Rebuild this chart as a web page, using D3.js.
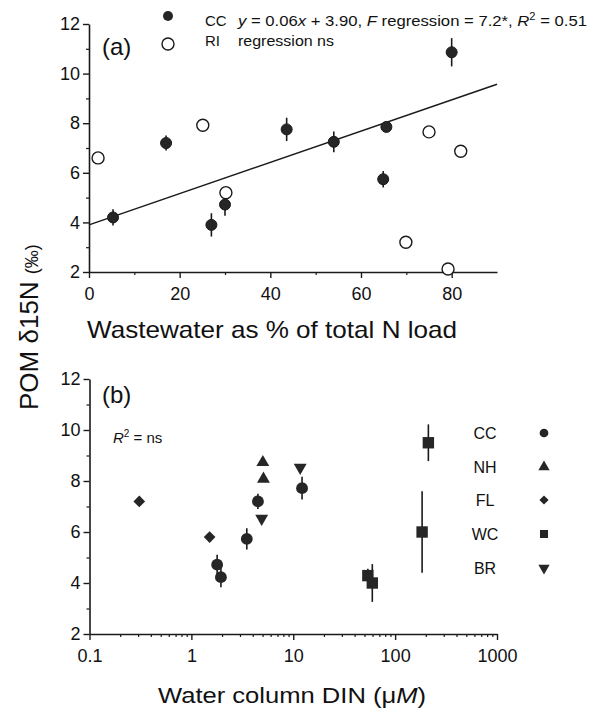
<!DOCTYPE html>
<html>
<head>
<meta charset="utf-8">
<script src="https://cdn.jsdelivr.net/npm/d3@7"></script>
<style>
  html, body { margin: 0; padding: 0; background: #fff; }
  svg text { font-family: "Liberation Sans", Arial, Helvetica, sans-serif; fill: #111; }
</style>
</head>
<body>
<svg id="chart" width="589" height="709"></svg>
<script>
// ---------- Panel (a) data ----------
const ccWaste = [5.3, 17, 27, 30, 43.6, 54, 65.6, 64.9, 80];
const ccDelta = [4.2, 7.2, 3.9, 4.72, 7.75, 7.25, 7.85, 5.74, 10.86];
const ccErr   = [0.33, 0.3, 0.47, 0.45, 0.47, 0.42, 0.2, 0.33, 0.57];
const riWaste = [2, 25.1, 30.2, 75, 82, 69.9, 79.2];
const riDelta = [6.6, 7.92, 5.2, 7.65, 6.87, 3.2, 2.12];
const regIntercept = 3.90;
const regSlope = 0.063;
const wasteTicks = [0, 20, 40, 60, 80];
const wasteMinor = [10, 30, 50, 70];
const deltaTicks = [2, 4, 6, 8, 10, 12];
const deltaMinor = [3, 5, 7, 9, 11];

// ---------- Panel (b) data ----------
const sites = ["CC", "NH", "FL", "WC", "BR"];
const dinCC = [1.79, 1.95, 3.5, 4.5, 12.2];
const deltaCC = [4.72, 4.23, 5.73, 7.2, 7.72];
const errCC = [0.39, 0.4, 0.42, 0.3, 0.45];
const dinNH = [5.03, 5.1];
const deltaNH = [8.73, 8.08];
const dinFL = [0.308, 1.51];
const deltaFL = [7.2, 5.8];
const dinWC = [212, 184, 54, 59.7];
const deltaWC = [9.5, 6.0, 4.29, 4.0];
const errWC = [0.72, 1.6, 0.27, 0.74];
const dinBR = [4.9, 11.7];
const deltaBR = [6.53, 8.53];
const dinTicks = [0.1, 1, 10, 100, 1000];
const dinTickLabels = ["0.1", "1", "10", "100", "1000"];

const svg = d3.select("#chart");
const ink = "#1a1a1a";

// ---------- scales ----------
const xA = d3.scaleLinear().domain([0, 90]).range([89, 497]);
const yA = d3.scaleLinear().domain([2, 12]).range([272, 24]);
const xB = d3.scaleLog().domain([0.1, 1000]).range([89.5, 497]);
const yB = d3.scaleLinear().domain([2, 12]).range([634, 379]);

function styleAxis(g) {
  g.selectAll("path.domain").attr("stroke", ink).attr("stroke-width", 1.6);
  g.selectAll(".tick line").attr("stroke", ink).attr("stroke-width", 1.4);
  g.selectAll(".tick text").style("font-size", "18px").attr("fill", ink);
}

function drawAxes(x, y, yBase, xMajor, xMinor, xFmt) {
  const gx = svg.append("g").attr("transform", `translate(0,${yBase})`)
    .call(d3.axisBottom(x).tickValues(xMajor).tickFormat(xFmt).tickSize(6).tickSizeOuter(0).tickPadding(9));
  styleAxis(gx);
  const gxm = svg.append("g").attr("transform", `translate(0,${yBase})`)
    .call(d3.axisBottom(x).tickValues(xMinor).tickFormat("").tickSize(3).tickSizeOuter(0));
  gxm.select("path.domain").remove();
  gxm.selectAll(".tick line").attr("stroke", ink).attr("stroke-width", 1.2);
  const x0 = x.range()[0];
  const gy = svg.append("g").attr("transform", `translate(${x0},0)`)
    .call(d3.axisLeft(y).tickValues(deltaTicks).tickSize(6).tickSizeOuter(0).tickPadding(3));
  styleAxis(gy);
  const gym = svg.append("g").attr("transform", `translate(${x0},0)`)
    .call(d3.axisLeft(y).tickValues(deltaMinor).tickFormat("").tickSize(3).tickSizeOuter(0));
  gym.select("path.domain").remove();
  gym.selectAll(".tick line").attr("stroke", ink).attr("stroke-width", 1.2);
}

// ---------- Panel (a) ----------
drawAxes(xA, yA, 272, wasteTicks, wasteMinor, d3.format("d"));

svg.append("line")
  .attr("x1", xA(0)).attr("y1", yA(regIntercept))
  .attr("x2", xA(90)).attr("y2", yA(regIntercept + regSlope * 90))
  .attr("stroke", ink).attr("stroke-width", 1.5);

const ccA = ccWaste.map((w, i) => ({ x: w, y: ccDelta[i], e: ccErr[i] }));
svg.append("g").selectAll("line").data(ccA).join("line")
  .attr("x1", d => xA(d.x)).attr("x2", d => xA(d.x))
  .attr("y1", d => yA(d.y - d.e)).attr("y2", d => yA(d.y + d.e))
  .attr("stroke", ink).attr("stroke-width", 1.6);
svg.append("g").selectAll("circle").data(ccA).join("circle")
  .attr("cx", d => xA(d.x)).attr("cy", d => yA(d.y)).attr("r", 5.5)
  .attr("fill", "#262626").attr("stroke", ink).attr("stroke-width", 1);

const riA = riWaste.map((w, i) => ({ x: w, y: riDelta[i] }));
svg.append("g").selectAll("circle").data(riA).join("circle")
  .attr("cx", d => xA(d.x)).attr("cy", d => yA(d.y)).attr("r", 6)
  .attr("fill", "#fff").attr("stroke", ink).attr("stroke-width", 1.4);

// legend (a)
svg.append("circle").attr("cx", 168).attr("cy", 16).attr("r", 5).attr("fill", "#262626");
svg.append("circle").attr("cx", 168).attr("cy", 44).attr("r", 6).attr("fill", "#fff")
  .attr("stroke", ink).attr("stroke-width", 1.4);
svg.append("text").attr("x", 205).attr("y", 26).style("font-size", "15px").text("CC");
svg.append("text").attr("x", 205).attr("y", 46).style("font-size", "15px").text("RI");
const eq = svg.append("text").attr("x", 238).attr("y", 26).style("font-size", "15px")
  .attr("textLength", 349).attr("lengthAdjust", "spacingAndGlyphs");
eq.append("tspan").style("font-style", "italic").text("y");
eq.append("tspan").text(" = 0.06");
eq.append("tspan").style("font-style", "italic").text("x");
eq.append("tspan").text(" + 3.90, ");
eq.append("tspan").style("font-style", "italic").text("F");
eq.append("tspan").text(" regression = 7.2*, ");
eq.append("tspan").style("font-style", "italic").text("R");
eq.append("tspan").attr("dy", -6).style("font-size", "10px").text("2");
eq.append("tspan").attr("dy", 6).text(" = 0.51");
svg.append("text").attr("x", 238).attr("y", 46).style("font-size", "15px")
  .attr("textLength", 96).attr("lengthAdjust", "spacingAndGlyphs").text("regression ns");

svg.append("text").attr("x", 102).attr("y", 55).style("font-size", "24px").text("(a)");

svg.append("text").attr("x", 87).attr("y", 338).style("font-size", "24px")
  .attr("textLength", 370).attr("lengthAdjust", "spacingAndGlyphs")
  .text("Wastewater as % of total N load");

// ---------- Panel (b) ----------
drawAxes(xB, yB, 634, dinTicks,
  xB.ticks().filter(v => Math.abs(Math.log10(v) - Math.round(Math.log10(v))) > 1e-6),
  (d, i) => dinTickLabels[i]);

const sym = {
  CC: d3.symbol().type(d3.symbolCircle).size(110),
  NH: d3.symbol().type(d3.symbolTriangle).size(72),
  FL: d3.symbol().type(d3.symbolSquare).size(68),
  WC: d3.symbol().type(d3.symbolSquare).size(130),
  BR: d3.symbol().type(d3.symbolTriangle).size(72)
};
const rot = { CC: 0, NH: 0, FL: 45, WC: 0, BR: 180 };
const legSym = {
  CC: d3.symbol().type(d3.symbolCircle).size(60),
  NH: d3.symbol().type(d3.symbolTriangle).size(55),
  FL: d3.symbol().type(d3.symbolSquare).size(42),
  WC: d3.symbol().type(d3.symbolSquare).size(64),
  BR: d3.symbol().type(d3.symbolTriangle).size(55)
};

const bData = [
  { site: "CC", x: dinCC, y: deltaCC, e: errCC },
  { site: "NH", x: dinNH, y: deltaNH, e: null },
  { site: "FL", x: dinFL, y: deltaFL, e: null },
  { site: "WC", x: dinWC, y: deltaWC, e: errWC },
  { site: "BR", x: dinBR, y: deltaBR, e: null }
];

bData.forEach(s => {
  const pts = s.x.map((v, i) => ({ x: v, y: s.y[i], e: s.e ? s.e[i] : 0 }));
  const g = svg.append("g");
  g.selectAll("line").data(pts.filter(p => p.e > 0)).join("line")
    .attr("x1", d => xB(d.x)).attr("x2", d => xB(d.x))
    .attr("y1", d => yB(d.y - d.e)).attr("y2", d => yB(d.y + d.e))
    .attr("stroke", ink).attr("stroke-width", 1.6);
  g.selectAll("path").data(pts).join("path")
    .attr("d", sym[s.site])
    .attr("transform", d => `translate(${xB(d.x)},${yB(d.y)}) rotate(${rot[s.site]})`)
    .attr("fill", "#262626");
});

const legY = [433, 467, 500, 534, 568];
sites.forEach((s, i) => {
  svg.append("text").attr("x", 485).attr("y", legY[i] + 6)
    .attr("text-anchor", "middle").style("font-size", "16px").text(s);
  svg.append("path").attr("d", legSym[s])
    .attr("transform", `translate(544,${legY[i]}) rotate(${rot[s]})`)
    .attr("fill", "#262626");
});

svg.append("text").attr("x", 102).attr("y", 403).style("font-size", "24px").text("(b)");

const r2 = svg.append("text").attr("x", 113).attr("y", 443).style("font-size", "15px");
r2.append("tspan").style("font-style", "italic").text("R");
r2.append("tspan").attr("dy", -6).style("font-size", "10px").text("2");
r2.append("tspan").attr("dy", 6).text(" = ns");

const xtb = svg.append("text").attr("x", 158).attr("y", 703).style("font-size", "22px")
  .attr("textLength", 268).attr("lengthAdjust", "spacingAndGlyphs");
xtb.append("tspan").text("Water column DIN (μ");
xtb.append("tspan").style("font-style", "italic").text("M");
xtb.append("tspan").text(")");

const yl = svg.append("text")
  .attr("transform", "translate(38,410) rotate(-90)")
  .style("font-size", "26px");
yl.append("tspan").text("POM δ15N ");
yl.append("tspan").style("font-size", "18px").text("(‰)");
</script>
</body>
</html>
